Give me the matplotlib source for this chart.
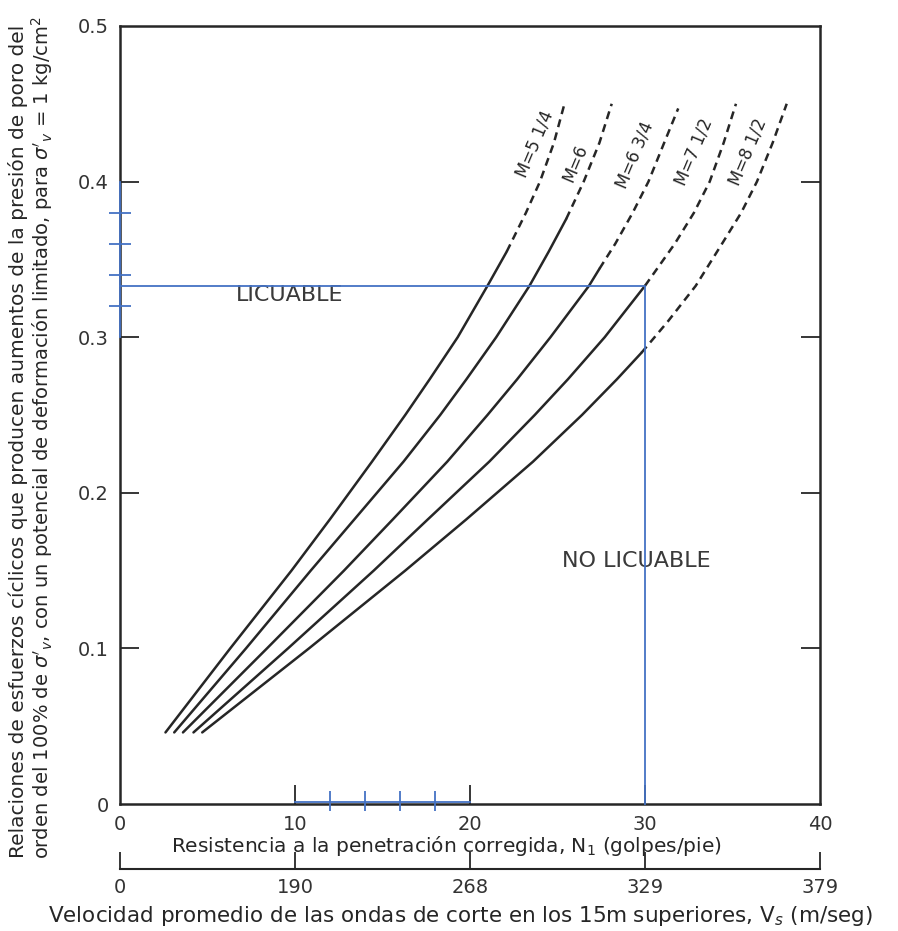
import matplotlib
matplotlib.use('Agg')
import matplotlib.pyplot as plt

# curves: corrected N1 vs cyclic stress ratio, dashed from index DASH_FROM upward
M_LABELS = ['M=5 1/4', 'M=6', 'M=6 3/4', 'M=7 1/2', 'M=8 1/2']
CURVE_Y = [
    [0.046, 0.10, 0.15, 0.183, 0.22, 0.25, 0.273, 0.30, 0.333, 0.355, 0.38, 0.40, 0.425, 0.45],
    [0.046, 0.10, 0.15, 0.183, 0.22, 0.25, 0.273, 0.30, 0.333, 0.355, 0.376, 0.40, 0.425, 0.45],
    [0.046, 0.10, 0.15, 0.183, 0.22, 0.25, 0.273, 0.30, 0.333, 0.344, 0.36, 0.38, 0.40, 0.425, 0.447],
    [0.046, 0.10, 0.15, 0.183, 0.22, 0.25, 0.273, 0.30, 0.333, 0.36, 0.38, 0.40, 0.425, 0.45],
    [0.046, 0.10, 0.15, 0.183, 0.22, 0.25, 0.273, 0.29, 0.31, 0.333, 0.36, 0.38, 0.40, 0.425, 0.45],
]
CURVE_N = [
    [2.6, 6.3, 9.8, 12.0, 14.4, 16.3, 17.7, 19.3, 21.0, 22.1, 23.2, 24.0, 24.8, 25.4],
    [3.1, 7.2, 10.9, 13.4, 16.2, 18.3, 19.8, 21.5, 23.4, 24.5, 25.5, 26.5, 27.4, 28.1],
    [3.6, 8.4, 12.8, 15.6, 18.7, 21.0, 22.7, 24.6, 26.8, 27.4, 28.3, 29.3, 30.2, 31.1, 31.9],
    [4.2, 9.6, 14.5, 17.6, 21.1, 23.7, 25.6, 27.7, 30.0, 31.7, 32.8, 33.7, 34.5, 35.2],
    [4.7, 10.8, 16.3, 19.8, 23.6, 26.4, 28.4, 29.8, 31.3, 32.9, 34.4, 35.5, 36.4, 37.3, 38.1],
]
DASH_FROM = [9, 10, 9, 8, 7]
LABEL_N = [23.7, 26.0, 29.4, 32.8, 35.9]
LABEL_Y = [0.424, 0.412, 0.417, 0.419, 0.419]

N_TICKS = [0, 10, 20, 30, 40]
N_MARKS = [10, 20, 30]
VS_LABELS = ['0', '190', '268', '329', '379']
Y_TICKS = [0, 0.1, 0.2, 0.3, 0.4, 0.5]
Y_MARKS = [0.1, 0.2, 0.3, 0.4]

# blue annotations drawn over the chart
PICK_N = 30
PICK_Y = 0.333
BLUE_Y_MARKS = [0.32, 0.34, 0.36, 0.38]
BLUE_Y_SPAN = [0.30, 0.40]
BLUE_N_MARKS = [12, 14, 16, 18]
BLUE_N_SPAN = [10, 20]

ink = '#262626'
blue = '#4472C4'

fig = plt.figure(figsize=(8.98, 9.31), dpi=100)
ax = fig.add_axes([0.1336, 0.1364, 0.7795, 0.8357])

for n, y, k in zip(CURVE_N, CURVE_Y, DASH_FROM):
    ax.plot(n[:k + 1], y[:k + 1], color=ink, lw=1.8, solid_capstyle='round')
    ax.plot(n[k:], y[k:], color=ink, lw=1.8, linestyle=(0, (3.2, 2.2)))

for lab, x, y in zip(M_LABELS, LABEL_N, LABEL_Y):
    ax.text(x, y, lab, rotation=67, ha='center', va='center', fontsize=12, color=ink)

ax.text(9.7, 0.327, 'LICUABLE', ha='center', va='center', fontsize=16, color='#3a3a3a')
ax.text(29.5, 0.156, 'NO LICUABLE', ha='center', va='center', fontsize=16, color='#3a3a3a')

# blue overlay
ax.plot([0, PICK_N, PICK_N], [PICK_Y, PICK_Y, 0], color=blue, lw=1.3, clip_on=False, zorder=5)
ax.plot([0, 0], BLUE_Y_SPAN, color=blue, lw=1.3, clip_on=False, zorder=5)
ax.plot([0] * len(BLUE_Y_MARKS), BLUE_Y_MARKS, ls='none', marker='_', ms=16, mew=1.3,
        color=blue, clip_on=False, zorder=5)
ax.plot(BLUE_N_SPAN, [0.0015, 0.0015], color=blue, lw=1.3, clip_on=False, zorder=5)
ax.plot(BLUE_N_MARKS, [0.002] * len(BLUE_N_MARKS), ls='none', marker='|', ms=14, mew=1.3,
        color=blue, clip_on=False, zorder=5)

ax.set_xlim(0, 40)
ax.set_ylim(0, 0.5)
ax.xaxis.remove_overlapping_locs = False
ax.yaxis.remove_overlapping_locs = False
ax.set_xticks(N_TICKS)
ax.set_xticklabels([str(t) for t in N_TICKS])
ax.set_yticks(Y_TICKS)
ax.set_yticklabels(['0', '0.1', '0.2', '0.3', '0.4', '0.5'])
ax.set_xticks(N_MARKS, minor=True)
ax.set_yticks(Y_MARKS, minor=True)
ax.tick_params(which='major', length=0, labelsize=14, labelcolor='#333333', pad=8)
ax.tick_params(which='minor', direction='in', length=14, width=1.3, color=ink,
               left=True, right=True, bottom=True, top=False)
for s in ax.spines.values():
    s.set_linewidth(1.8)
    s.set_color(ink)

ax.set_xlabel('Resistencia a la penetración corregida, N$_1$ (golpes/pie)',
              fontsize=14.5, color=ink)
ax.xaxis.set_label_coords(0.466, -0.038)

# second scale: shear wave velocity
sec = ax.secondary_xaxis(-0.084)
sec.set_xticks(N_TICKS)
sec.set_xticklabels(VS_LABELS)
sec.tick_params(direction='in', length=12, width=1.3, color=ink, labelsize=14,
                labelcolor='#333333', pad=6)
sec.spines['bottom'].set_linewidth(1.5)
sec.spines['bottom'].set_color(ink)
sec.set_xlabel('Velocidad promedio de las ondas de corte en los 15m superiores, V$_s$ (m/seg)',
               fontsize=15.5, color=ink, labelpad=5)
sec.xaxis.set_label_coords(0.486, -0.128, transform=ax.transAxes)

fig.text(0.020, 0.526,
         'Relaciones de esfuerzos cíclicos que producen aumentos de la presión de poro del',
         rotation=90, ha='center', va='center', fontsize=14.5, color=ink)
fig.text(0.047, 0.530,
         "orden del 100% de $\\sigma'_v$, con un potencial de deformación limitado, para $\\sigma'_v$ = 1 kg/cm$^2$",
         rotation=90, ha='center', va='center', fontsize=14, color=ink)

fig.savefig('out.png', dpi=100, facecolor='white')
